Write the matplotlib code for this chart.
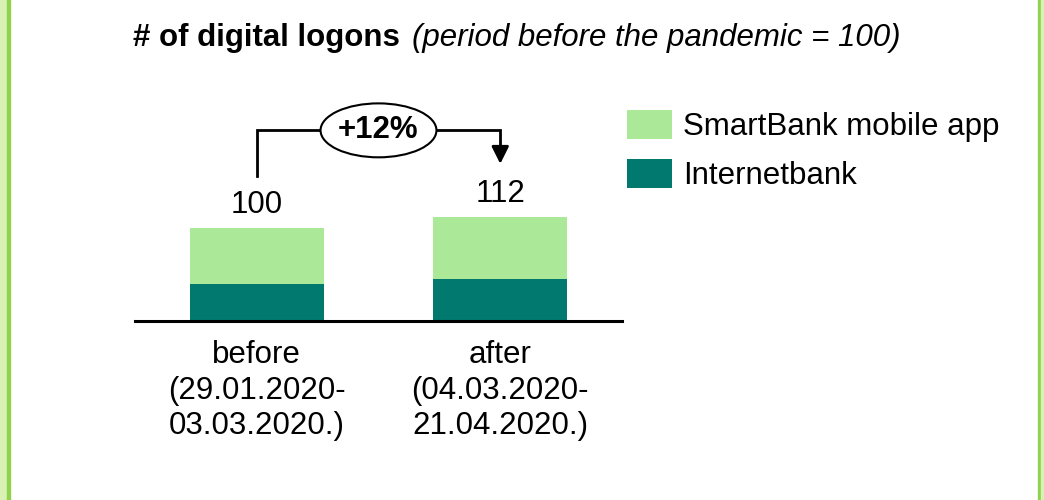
import matplotlib.pyplot as plt
from matplotlib.patches import Ellipse, Rectangle
import numpy as np

plt.rcParams['font.family'] = ['Liberation Sans', 'DejaVu Sans']

# data
periods = ['before\n(29.01.2020-\n03.03.2020.)', 'after\n(04.03.2020-\n21.04.2020.)']
internetbank = np.array([40, 45])
smartbank = np.array([60, 67])
totals = internetbank + smartbank
change_label = '+12%'

c_light = '#abe999'
c_dark = '#01796f'
fs = 22.5

fig = plt.figure(figsize=(10.44, 5), dpi=100)
W, H = 1044, 500

# green side borders
for x0, w, col in [(0, 7, '#d9f2b3'), (7, 3, '#92d050'), (1038, 3, '#92d050'), (1041, 3, '#d9f2b3')]:
    fig.patches.append(Rectangle((x0 / W, 0), w / W, 1, transform=fig.transFigure,
                                 color=col, zorder=0))

# axes placed so that baseline sits at y=321px, 0.93 px per unit
ymax = 230
ax = fig.add_axes([135 / W, (H - 321) / H, (622 - 135) / W, ymax * 0.93 / H])
x = np.arange(len(periods))
ax.bar(x, internetbank, width=0.55, color=c_dark, label='Internetbank', zorder=2)
ax.bar(x, smartbank, width=0.55, bottom=internetbank, color=c_light,
       label='SmartBank mobile app', zorder=2)
ax.set_xlim(-0.5, 1.5)
ax.set_ylim(0, ymax)

for s in ['top', 'left', 'right']:
    ax.spines[s].set_visible(False)
ax.spines['bottom'].set_linewidth(2.2)
ax.set_yticks([])
ax.set_xticks(x, periods, fontsize=fs)
ax.tick_params(axis='x', length=0, pad=14)
for t in ax.get_xticklabels():
    t.set_linespacing(1.22)
ax.patch.set_visible(False)

for xi, t in zip(x, totals):
    ax.text(xi, t + 25, str(t), ha='center', va='center', fontsize=fs)

# bracket with change bubble
y_top = totals[0] + 105
ax.plot([x[0], x[0], 0.27], [totals[0] + 56, y_top, y_top], color='black',
        lw=2, clip_on=False, solid_joinstyle='miter')
ax.plot([0.73, x[1], x[1]], [y_top, y_top, totals[1] + 66], color='black',
        lw=2, clip_on=False, solid_joinstyle='miter')
ax.annotate('', xy=(x[1], totals[1] + 57), xytext=(x[1], totals[1] + 72),
            arrowprops=dict(arrowstyle='-|>', color='black', lw=2,
                            mutation_scale=26, shrinkA=0, shrinkB=0),
            annotation_clip=False)
ax.add_patch(Ellipse((0.5, y_top), 0.476, 58, facecolor='white', edgecolor='black',
                     lw=1.5, clip_on=False, zorder=3))
ax.text(0.5, y_top, change_label, ha='center', va='center', fontsize=fs,
        fontweight='bold', zorder=4)

# legend
handles, labels = ax.get_legend_handles_labels()
fig.legend(handles[::-1], labels[::-1], loc='upper left',
           bbox_to_anchor=(627 / W, 1 - 110 / H), bbox_transform=fig.transFigure,
           frameon=False, fontsize=fs, handlelength=1.43, handleheight=1.05,
           labelspacing=0.54, handletextpad=0.35, borderpad=0, borderaxespad=0)

# title
fig.text(133 / W, 1 - 38 / H, '# of digital logons', fontsize=fs, fontweight='bold',
         va='center', ha='left')
fig.text(412 / W, 1 - 38 / H, '(period before the pandemic = 100)', fontsize=fs,
         fontstyle='italic', va='center', ha='left')

fig.savefig('out.png', dpi=100)
